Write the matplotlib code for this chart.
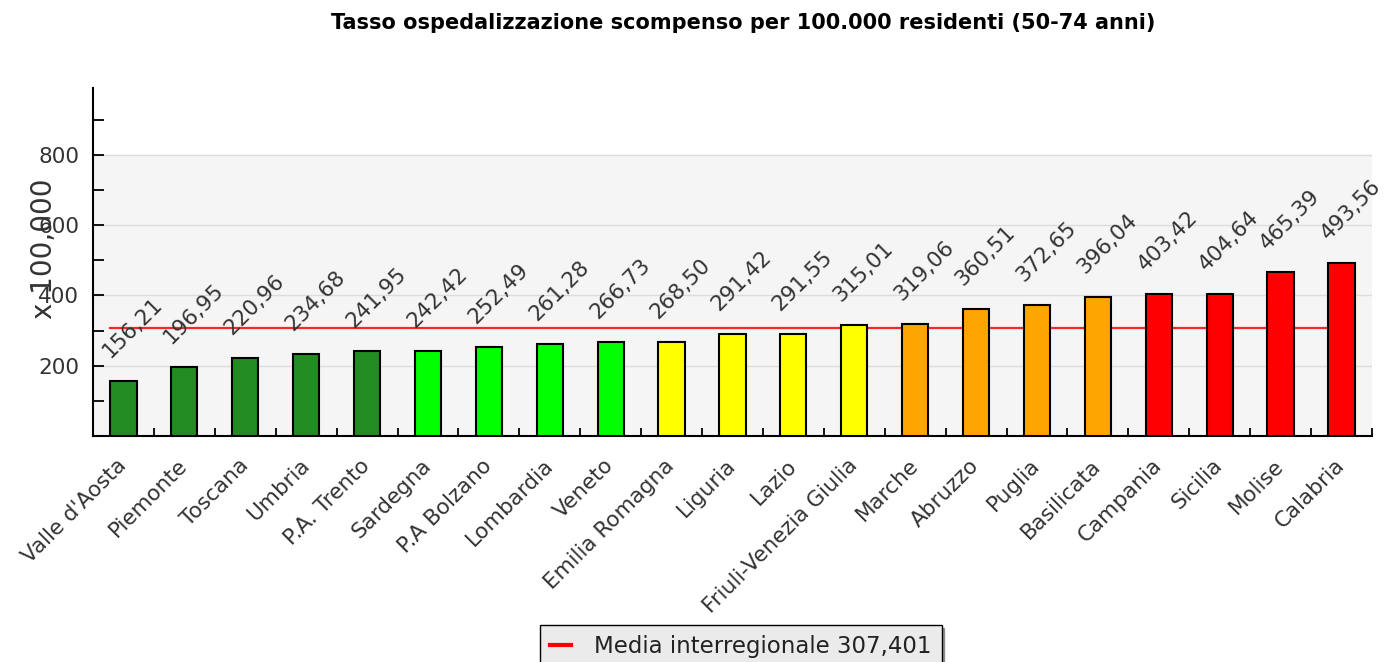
import matplotlib.pyplot as plt
from matplotlib.lines import Line2D
from matplotlib.ticker import MultipleLocator

regioni = ["Valle d'Aosta", "Piemonte", "Toscana", "Umbria", "P.A. Trento",
           "Sardegna", "P.A Bolzano", "Lombardia", "Veneto", "Emilia Romagna",
           "Liguria", "Lazio", "Friuli-Venezia Giulia", "Marche", "Abruzzo",
           "Puglia", "Basilicata", "Campania", "Sicilia", "Molise", "Calabria"]
valori = [156.21, 196.95, 220.96, 234.68, 241.95, 242.42, 252.49, 261.28,
          266.73, 268.50, 291.42, 291.55, 315.01, 319.06, 360.51, 372.65,
          396.04, 403.42, 404.64, 465.39, 493.56]
fasce = ["forestgreen"] * 5 + ["#00ff00"] * 4 + ["#ffff00"] * 4 + ["#ffa500"] * 4 + ["#ff0000"] * 4
media = 307.401


def virgola(v, nd=2):
    return f"{v:.{nd}f}".replace(".", ",")


fig = plt.figure(figsize=(13.9, 6.62), dpi=100)
ax = fig.add_axes([0.0669, 0.3414, 0.9201, 0.5256])
ax.set_facecolor("white")
x = list(range(len(regioni)))
n = len(regioni)

# sfondo grigio solo fino a 800
ax.axhspan(0, 800, color="#f5f5f5", zorder=0)
for g in [200, 400, 600, 800]:
    ax.axhline(g, color="#dcdcdc", lw=1, zorder=1)

ax.plot([-0.215, n - 1 - 0.215], [media, media], color="red", lw=1.6, zorder=2, alpha=0.85)
ax.bar(x, valori, width=0.43, color=fasce, edgecolor="black", linewidth=1.5, zorder=3)

for i, v in enumerate(valori):
    ax.annotate(virgola(v), (i - 0.215, v), xytext=(2, 14), textcoords="offset points",
                rotation=45, rotation_mode="anchor", ha="left", va="bottom",
                fontsize=15.5, color="#333333", zorder=4)

ax.set_xlim(-0.5, n - 0.5)
ax.set_ylim(0, 990)
ax.yaxis.set_major_locator(MultipleLocator(200))
ax.yaxis.set_minor_locator(MultipleLocator(100))
ax.set_yticks([200, 400, 600, 800])
ax.tick_params(axis="y", which="both", direction="in", length=8, width=1.3,
               labelsize=15.5, labelcolor="#333333", pad=10)

ax.set_xticks(x)
ax.set_xticklabels(regioni, rotation=45, ha="right", va="center", rotation_mode="anchor",
                   fontsize=15.5, color="#333333")
ax.tick_params(axis="x", which="major", length=0, pad=19)
ax.set_xticks([i + 0.5 for i in x], minor=True)
ax.tick_params(axis="x", which="minor", direction="in", length=6, width=1.3)

for s in ["top", "right"]:
    ax.spines[s].set_visible(False)
for s in ["left", "bottom"]:
    ax.spines[s].set_linewidth(1.5)

fig.text(0.032, 0.624, "x 100,000", rotation=90, ha="center", va="center",
         fontsize=20, color="#333333")

fig.text(0.535, 0.965, "Tasso ospedalizzazione scompenso per 100.000 residenti (50-74 anni)",
         ha="center", va="center", fontsize=15, fontweight="bold")

handle = Line2D([], [], color="red", lw=3)
leg = fig.legend([handle], [f"Media interregionale {virgola(media, 3)}"],
                 loc="upper center", bbox_to_anchor=(0.533, 0.056), borderaxespad=0,
                 fontsize=16.5, frameon=True, fancybox=False, shadow=True,
                 handlelength=0.9, handletextpad=1.0, borderpad=0.45)
leg.get_frame().set_facecolor("#ebebeb")
leg.get_frame().set_edgecolor("black")
leg.get_frame().set_alpha(1)
for t in leg.get_texts():
    t.set_color("#222222")

fig.savefig("out.png", dpi=100)
